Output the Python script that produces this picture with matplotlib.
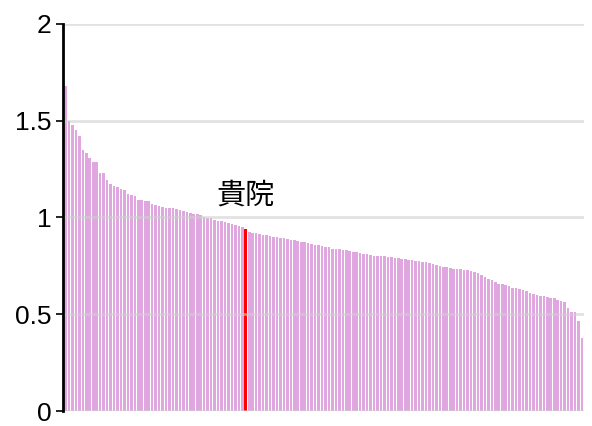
import matplotlib.pyplot as plt

# 各施設の値（降順）
values = [
    1.68, 1.50, 1.48, 1.45, 1.42, 1.35, 1.335, 1.31, 1.285, 1.285,
    1.23, 1.23, 1.195, 1.175, 1.165, 1.16, 1.145, 1.14, 1.12, 1.115,
    1.11, 1.09, 1.088, 1.085, 1.083, 1.07, 1.065, 1.058, 1.055, 1.05,
    1.05, 1.048, 1.045, 1.04, 1.035, 1.03, 1.025, 1.02, 1.018, 1.015,
    1.005, 0.998, 0.995, 0.988, 0.983, 0.98, 0.978, 0.973, 0.968, 0.96,
    0.955, 0.95, 0.94, 0.925, 0.922, 0.918, 0.915, 0.912, 0.907, 0.903,
    0.90, 0.897, 0.895, 0.892, 0.888, 0.885, 0.882, 0.878, 0.875, 0.872,
    0.87, 0.865, 0.86, 0.857, 0.853, 0.85, 0.847, 0.838, 0.835, 0.835,
    0.833, 0.83, 0.826, 0.82, 0.82, 0.818, 0.812, 0.81, 0.808, 0.803,
    0.803, 0.802, 0.80, 0.798, 0.794, 0.792, 0.79, 0.785, 0.783, 0.78,
    0.778, 0.775, 0.773, 0.772, 0.768, 0.765, 0.76, 0.752, 0.75, 0.746,
    0.744, 0.738, 0.736, 0.735, 0.732, 0.729, 0.727, 0.726, 0.72, 0.712,
    0.703, 0.692, 0.684, 0.675, 0.665, 0.658, 0.655, 0.652, 0.645, 0.638,
    0.634, 0.63, 0.627, 0.62, 0.612, 0.605, 0.598, 0.595, 0.593, 0.59,
    0.586, 0.582, 0.576, 0.568, 0.565, 0.532, 0.512, 0.51, 0.465, 0.376,
]
own_index = 52
own_label = '貴院'
yticks = [0, 0.5, 1, 1.5, 2]
ytick_labels = ['0', '0.5', '1', '1.5', '2']

plt.rcParams['font.family'] = ['Liberation Sans', 'Noto Sans CJK JP', 'DejaVu Sans']

fig = plt.figure(figsize=(5.92, 4.26), dpi=100)
ax = fig.add_axes([0.106, 0.0352, 0.880, 0.9085])

x = list(range(len(values)))
colors = ['#ff0000' if i == own_index else '#dfa6df' for i in x]
ax.bar(x, values, width=0.75, color=colors, zorder=2)

ax.set_xlim(-0.8, len(values) - 0.5)
ax.set_ylim(0, 2)
ax.set_yticks(yticks)
ax.set_yticklabels(ytick_labels, fontsize=19)
ax.set_xticks([])

# 目盛り線（棒の上に薄く重ねる）
for t in yticks:
    ax.axhline(t, color='#d0d0d0', linewidth=2, alpha=0.6, zorder=3)

for s in ['top', 'right', 'bottom']:
    ax.spines[s].set_visible(False)
ax.spines['left'].set_linewidth(2)
ax.spines['left'].set_zorder(4)
ax.tick_params(axis='y', length=5, width=1.2, pad=3)

# 貴院のラベル
ax.annotate(own_label, xy=(own_index, values[own_index]), xytext=(0, 13),
            textcoords='offset points', ha='center', va='bottom',
            fontsize=21, family=['Noto Sans CJK JP', 'DejaVu Sans'])

plt.savefig('out.png', dpi=100)
